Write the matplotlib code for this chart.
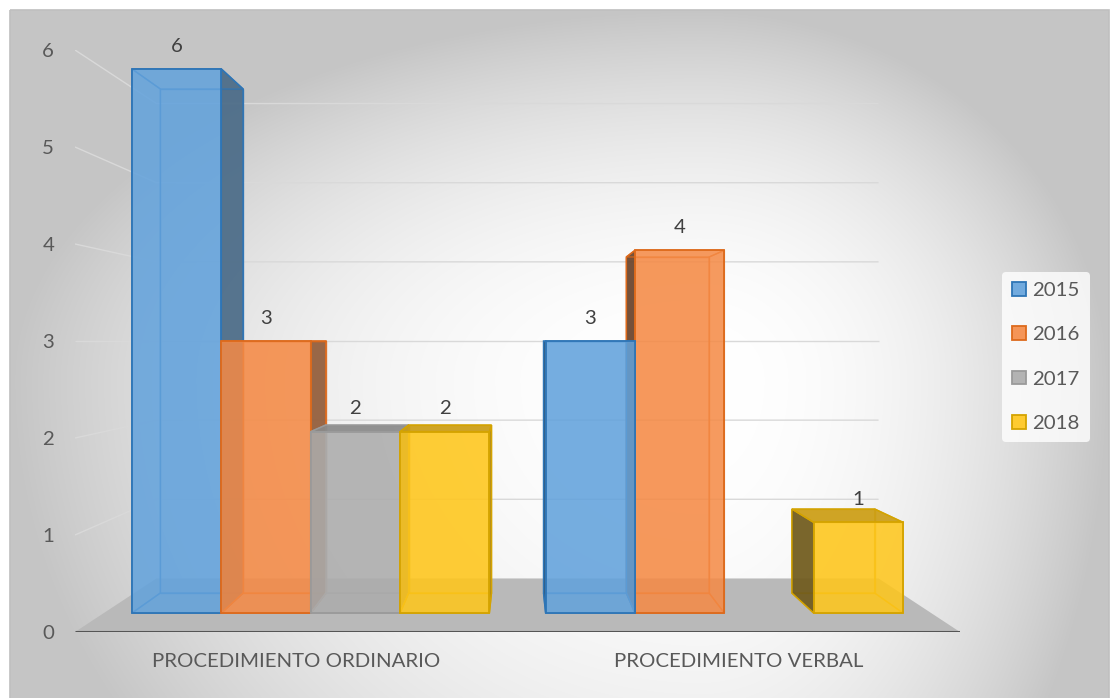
import numpy as np
import matplotlib
matplotlib.use("Agg")
import matplotlib.pyplot as plt
from matplotlib.patches import Polygon, Rectangle, Patch
from matplotlib.colors import to_rgba

# ---------------- data ----------------
categories = ["PROCEDIMIENTO ORDINARIO", "PROCEDIMIENTO VERBAL"]
series_names = ["2015", "2016", "2017", "2018"]
values_2015 = [6, 3]
values_2016 = [3, 4]
values_2017 = [2, None]
values_2018 = [2, 1]
y_ticks = [0, 1, 2, 3, 4, 5, 6]

series_values = [values_2015, values_2016, values_2017, values_2018]
face_colors = ["#62A2DC", "#F58A45", "#ACACAC", "#FFC61A"]
edge_colors = ["#2E75B6", "#DD6A1C", "#9A9A9A", "#D4A300"]

FONT = "Lato"
FS = 14.7
TXT = "#595959"

W, H, DPI = 1114, 698, 100
fig = plt.figure(figsize=(W / DPI, H / DPI), dpi=DPI)

# ---------------- background (chart area gradient) ----------------
bg = fig.add_axes([0, 0, 1, 1])
bg.set_xlim(0, W)
bg.set_ylim(H, 0)
bg.axis("off")
cx0, cy0, cx1, cy1 = 10, 10, 1109, 1000
xx, yy = np.meshgrid(np.arange(W) + 0.5, np.arange(H) + 0.5)
gcx, gcy = 700, 380
rx = np.where(xx < gcx, gcx - cx0, cx1 - gcx)
ry = np.where(yy < gcy, gcy - cy0, cy1 - gcy)
t = np.sqrt(((xx - gcx) / rx) ** 2 + ((yy - gcy) / ry) ** 2)
val = (255 - 58 * np.clip(t, 0, 1) ** 2.2) / 255.0
inside = (xx >= cx0) & (xx <= cx1) & (yy >= cy0)
val = np.where(inside, val, 1.0)
bg.imshow(np.dstack([val] * 3), extent=(0, W, H, 0), interpolation="bilinear", aspect="auto")
bg.add_patch(Rectangle((cx0, cy0), cx1 - cx0, H + 20, fill=False, edgecolor="#bfbfbf", lw=1.2))

# ---------------- main axes (front plane of the 3-D box) ----------------
L_px, R_px, B_px, T_px = 75, 960, 632, 50
ax = fig.add_axes([L_px / W, 1 - B_px / H, (R_px - L_px) / W, (B_px - T_px) / H])
ax.set_xlim(-0.5, len(categories) - 0.5)
ax.set_ylim(0, max(y_ticks))
ax.patch.set_visible(False)
for s in ax.spines.values():
    s.set_visible(False)
ax.set_yticks(y_ticks)
ax.set_yticklabels([str(v) for v in y_ticks], fontfamily=FONT, fontsize=FS, color=TXT)
ax.set_xticks(range(len(categories)))
ax.set_xticklabels(categories, fontfamily=FONT, fontsize=FS, color=TXT)
ax.tick_params(axis="both", length=0)
ax.tick_params(axis="y", pad=15)
ax.tick_params(axis="x", pad=15)

# one-point perspective
VP_X, VP_Y = 0.5, 3.0
S_FRONT, S_BACK, S_WALL = 0.935, 0.866, 0.816


def proj(x, y, s):
    return (VP_X + (x - VP_X) * s, VP_Y + (y - VP_Y) * s)


xmin, xmax = ax.get_xlim()
# floor
floor = [proj(xmin, 0, 1.0), proj(xmax, 0, 1.0), proj(xmax, 0, S_WALL), proj(xmin, 0, S_WALL)]
ax.add_patch(Polygon(floor, closed=True, facecolor="#b9b9b9", edgecolor="none", zorder=1))
# gridlines (side wall + back wall)
for v in y_ticks[1:]:
    pts = [proj(xmin, v, 1.0), proj(xmin, v, S_WALL), proj(xmax, v, S_WALL)]
    ax.plot([p[0] for p in pts], [p[1] for p in pts], color="#d9d9d9", lw=1.0, zorder=1.5,
            solid_capstyle="butt")
# front axis line
ax.plot([xmin, xmax], [0, 0], color="#555555", lw=2.2, zorder=2, solid_capstyle="butt")


def darken(c, k, desat=0.0):
    r, g, b, _ = to_rgba(c)
    m = (r + g + b) / 3
    r, g, b = r + (m - r) * desat, g + (m - g) * desat, b + (m - b) * desat
    return (r * k, g * k, b * k)


n_series = len(series_names)
group_w = 0.864
bar_w = group_w / n_series
bars = []
for g in range(len(categories)):
    for k in range(n_series):
        v = series_values[k][g]
        if v is None:
            continue
        xl = g - group_w / 2 + k * bar_w
        xr = xl + bar_w
        bars.append((abs((xl + xr) / 2 - VP_X), xl, xr, v, k))
bars.sort(key=lambda b: -b[0])

z = 3
for _, xl, xr, v, k in bars:
    face, edge = face_colors[k], edge_colors[k]
    f = [proj(xl, 0, S_FRONT), proj(xr, 0, S_FRONT), proj(xr, v, S_FRONT), proj(xl, v, S_FRONT)]
    b = [proj(xl, 0, S_BACK), proj(xr, 0, S_BACK), proj(xr, v, S_BACK), proj(xl, v, S_BACK)]
    ecol_in = to_rgba(edge, 0.8)
    # back face
    ax.add_patch(Polygon(b, closed=True, facecolor=to_rgba(face, 0.12), edgecolor=ecol_in, lw=1.0, zorder=z))
    # bottom face
    ax.add_patch(Polygon([f[0], f[1], b[1], b[0]], closed=True, facecolor="none", edgecolor=ecol_in, lw=1.0, zorder=z + 0.1))
    left = [f[0], b[0], b[3], f[3]]
    right = [f[1], b[1], b[2], f[2]]
    if (xl + xr) / 2 < VP_X:
        hidden, visible, kside = left, right, 0.66
    else:
        hidden, visible, kside = right, left, 0.48
    ax.add_patch(Polygon(hidden, closed=True, facecolor="none", edgecolor=ecol_in, lw=1.0, zorder=z + 0.2))
    ax.add_patch(Polygon(visible, closed=True, facecolor=darken(face, kside, 0.25) + (0.92,),
                         edgecolor=edge, lw=1.1, zorder=z + 0.3))
    top = [f[3], f[2], b[2], b[3]]
    if v < VP_Y:
        ax.add_patch(Polygon(top, closed=True, facecolor=darken(face, 0.8) + (0.92,),
                             edgecolor=edge, lw=1.1, zorder=z + 0.4))
    else:
        ax.add_patch(Polygon(top, closed=True, facecolor="none", edgecolor=ecol_in, lw=1.0, zorder=z + 0.4))
    # front face as a real bar
    ax.bar(f[0][0], f[2][1] - f[0][1], width=f[1][0] - f[0][0], bottom=f[0][1], align="edge",
           color=to_rgba(face, 0.86), edgecolor=edge, linewidth=1.3, zorder=z + 0.5)
    ax.annotate(str(v), xy=((f[0][0] + f[1][0]) / 2, f[2][1]), xytext=(0, 12.5),
                textcoords="offset points", ha="center", va="baseline",
                fontfamily=FONT, fontsize=FS, color="#404040", zorder=50)
    z += 1

# legend
handles = [Patch(facecolor=to_rgba(face_colors[i], 0.9), edgecolor=edge_colors[i], lw=1.3)
           for i in range(n_series)]
leg = fig.legend(handles, series_names, loc="center left", bbox_to_anchor=(1002 / W, 1 - 357 / H),
                 prop={"family": FONT, "size": FS}, frameon=True, handlelength=0.67, handleheight=0.67,
                 handletextpad=0.3, labelspacing=1.33, borderpad=0.5, borderaxespad=0)
leg.get_frame().set_facecolor((1, 1, 1, 0.14))
leg.get_frame().set_edgecolor("none")
for txt in leg.get_texts():
    txt.set_color(TXT)

fig.savefig("out.png", dpi=DPI)
